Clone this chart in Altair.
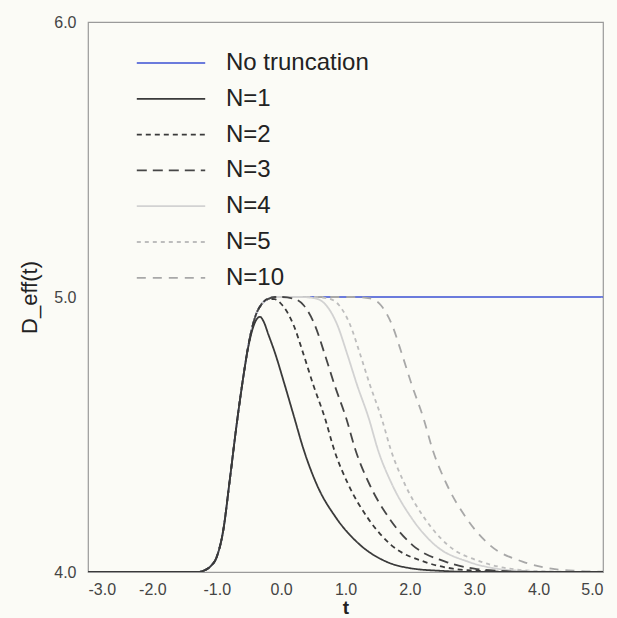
import altair as alt
import pandas as pd

series_names = ["No truncation", "N=1", "N=2", "N=3", "N=4", "N=5", "N=10"]
series_colors = ["#6b7bdc", "#3a3a3a", "#3a3a3a", "#464646", "#d2d2d2", "#bdbdbd", "#a8a8a8"]
series_dashes = [[1, 0], [1, 0], [5, 4], [10, 6], [1, 0], [4, 4], [9, 7]]

# shared rising part
rise_t = [-3.0, -1.3, -1.2, -1.1, -1.0, -0.9, -0.8, -0.7, -0.6, -0.5, -0.4, -0.3, -0.2, -0.1]
rise_v = [4.0, 4.0, 4.005, 4.02, 4.055, 4.15, 4.33, 4.52, 4.69, 4.835, 4.93, 4.975, 4.993, 5.0]

t_none = rise_t + [5.0]
v_none = rise_v + [5.0]

t_n1 = [-3.0, -1.3, -1.2, -1.1, -1.0, -0.9, -0.8, -0.7, -0.6, -0.5, -0.42, -0.33, -0.27, -0.2, -0.1,
        0.05, 0.2, 0.35, 0.55, 0.86, 1.22, 1.64, 2.0, 2.5, 3.0, 5.0]
v_n1 = [4.0, 4.0, 4.005, 4.02, 4.055, 4.15, 4.33, 4.52, 4.69, 4.83, 4.9, 4.928, 4.91, 4.865, 4.80,
        4.685, 4.565, 4.445, 4.32, 4.195, 4.10, 4.037, 4.014, 4.004, 4.0, 4.0]

t_n2 = rise_t[:-1] + [-0.1, 0.02, 0.19, 0.35, 0.50, 0.68, 0.83, 1.04, 1.35, 1.71, 2.23, 2.67, 3.07, 3.5, 5.0]
v_n2 = rise_v[:-1] + [4.992, 4.97, 4.90, 4.79, 4.68, 4.56, 4.44, 4.32, 4.195, 4.098, 4.037, 4.012, 4.004, 4.001, 4.0]

t_n3 = rise_t + [0.0, 0.18, 0.35, 0.52, 0.68, 0.83, 1.01, 1.16, 1.37, 1.68, 2.04, 2.56, 3.0, 3.4, 3.8, 5.0]
v_n3 = rise_v + [5.0, 4.995, 4.97, 4.90, 4.79, 4.68, 4.56, 4.44, 4.32, 4.195, 4.098, 4.037, 4.012, 4.004, 4.001, 4.0]

t_n4 = rise_t + [0.3, 0.53, 0.70, 0.87, 1.03, 1.18, 1.36, 1.51, 1.72, 2.03, 2.39, 2.91, 3.35, 3.75, 4.15, 5.0]
v_n4 = rise_v + [5.0, 4.995, 4.97, 4.90, 4.79, 4.68, 4.56, 4.44, 4.32, 4.195, 4.098, 4.037, 4.012, 4.004, 4.001, 4.0]

t_n5 = rise_t + [0.5, 0.73, 0.90, 1.07, 1.23, 1.38, 1.56, 1.71, 1.92, 2.23, 2.59, 3.11, 3.55, 3.95, 4.35, 5.0]
v_n5 = rise_v + [5.0, 4.995, 4.97, 4.90, 4.79, 4.68, 4.56, 4.44, 4.32, 4.195, 4.098, 4.037, 4.012, 4.004, 4.001, 4.0]

t_n10 = rise_t + [1.1, 1.38, 1.55, 1.72, 1.88, 2.03, 2.21, 2.36, 2.57, 2.88, 3.24, 3.76, 4.2, 4.6, 5.0]
v_n10 = rise_v + [5.0, 4.995, 4.97, 4.90, 4.79, 4.68, 4.56, 4.44, 4.32, 4.195, 4.098, 4.037, 4.012, 4.004, 4.001]

x_ticks = [-3.0, -2.0, -1.0, 0.0, 1.0, 2.0, 3.0, 4.0, 5.0]
y_ticks = [4.0, 5.0, 6.0]

all_t = [t_none, t_n1, t_n2, t_n3, t_n4, t_n5, t_n10]
all_v = [v_none, v_n1, v_n2, v_n3, v_n4, v_n5, v_n10]

rows = []
for name, ts, vs in zip(series_names, all_t, all_v):
    for t, v in zip(ts, vs):
        rows.append({"series": name, "t": t, "v": v})
df = pd.DataFrame(rows)

color_scale = alt.Scale(domain=series_names, range=series_colors)
dash_scale = alt.Scale(domain=series_names, range=series_dashes)

legend = alt.Legend(
    title=None, orient="none", legendX=70, legendY=28,
    symbolType="M-2.85,0H2.85", symbolSize=576, symbolStrokeWidth=1.8,
    labelFont="Liberation Sans", labelFontSize=24, labelColor="#222222",
    rowPadding=10.8, labelOffset=42, padding=0, labelLimit=0,
)

lab_expr = "replace(format(datum.value, '.1f'), '\u2212', '-')"

def layer(name):
    return alt.Chart(df).transform_filter(alt.datum.series == name).mark_line(
        interpolate="monotone", strokeWidth=1.8, clip=True
    ).encode(
        x=alt.X("t:Q", scale=alt.Scale(domain=[-3, 5], nice=False),
                axis=alt.Axis(values=x_ticks, labelExpr=lab_expr, title="t", ticks=False,
                              domain=False, grid=False, labelFontSize=16, labelColor="#444444",
                              labelFont="Liberation Sans", labelPadding=9, titleFontSize=19,
                              titleFont="Liberation Sans", titleFontWeight="bold",
                              titleColor="#222222", titlePadding=1)),
        y=alt.Y("v:Q", scale=alt.Scale(domain=[4, 6], nice=False, zero=False),
                axis=alt.Axis(values=y_ticks, labelExpr=lab_expr, title="D_eff(t)", ticks=False,
                              domain=False, grid=False, labelFontSize=16, labelColor="#444444",
                              labelFont="Liberation Sans", labelPadding=12, titleFontSize=22,
                              titleFont="Liberation Sans", titleFontWeight="normal",
                              titleColor="#222222", titlePadding=12)),
        color=alt.Color("series:N", scale=color_scale, legend=legend),
        strokeDash=alt.StrokeDash("series:N", scale=dash_scale, legend=legend),
    )

draw_order = ["No truncation", "N=10", "N=5", "N=4", "N=3", "N=2", "N=1"]
chart = alt.layer(*[layer(n) for n in draw_order]).properties(
    width=515, height=550,
    autosize=alt.AutoSizeParams(type="none"),
    padding={"left": 88, "top": 22, "right": 14, "bottom": 46},
    background="#fbfbf6",
).configure_view(stroke="#9a9a9a", strokeWidth=1.2)

chart.save("out.html", embed_options={"renderer": "svg", "actions": False})
